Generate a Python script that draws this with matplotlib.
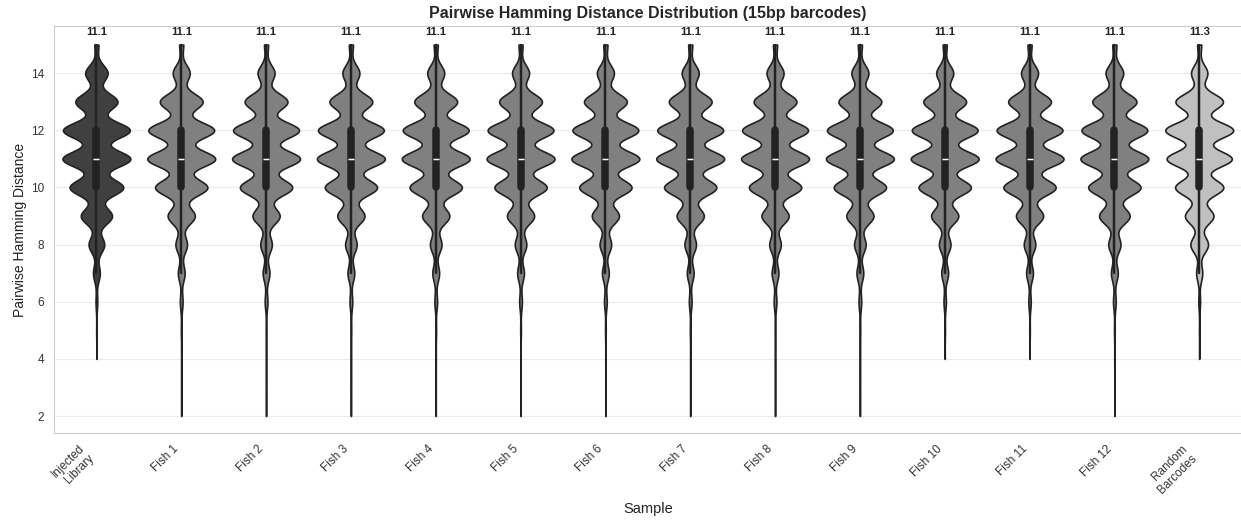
import numpy as np
import pandas as pd
import matplotlib
matplotlib.use("Agg")
import matplotlib.pyplot as plt
import seaborn as sns

# Hamming distance values and relative pair counts
distances = [2, 3, 4, 5, 6, 7, 8, 9, 10, 11, 12, 13, 14, 15]

samples = ["Injected\nLibrary", "Fish 1", "Fish 2", "Fish 3", "Fish 4", "Fish 5", "Fish 6",
           "Fish 7", "Fish 8", "Fish 9", "Fish 10", "Fish 11", "Fish 12", "Random\nBarcodes"]

injected_counts = [0, 0, 2, 6, 25, 100, 230, 460, 790, 1000, 985, 620, 330, 60]
fish1_counts = [1, 1, 3, 10, 40, 100, 170, 400, 770, 1000, 970, 630, 250, 60]
fish2_counts = [1, 1, 3, 10, 40, 100, 170, 400, 770, 1000, 970, 630, 250, 60]
fish3_counts = [1, 1, 3, 10, 40, 100, 170, 400, 770, 1000, 970, 630, 250, 60]
fish4_counts = [1, 1, 3, 10, 40, 100, 170, 400, 770, 1000, 970, 630, 250, 60]
fish5_counts = [1, 1, 3, 10, 40, 100, 170, 400, 770, 1000, 970, 630, 250, 60]
fish6_counts = [1, 1, 3, 10, 40, 100, 170, 400, 770, 1000, 970, 630, 250, 60]
fish7_counts = [1, 1, 3, 10, 40, 100, 170, 400, 770, 1000, 970, 630, 250, 60]
fish8_counts = [1, 1, 3, 10, 40, 100, 170, 400, 770, 1000, 970, 630, 250, 60]
fish9_counts = [2, 1, 3, 10, 40, 100, 170, 400, 770, 1000, 970, 630, 250, 60]
fish10_counts = [0, 0, 2, 8, 35, 100, 170, 400, 770, 1000, 970, 630, 250, 60]
fish11_counts = [0, 0, 2, 8, 35, 100, 170, 400, 770, 1000, 970, 630, 250, 60]
fish12_counts = [1, 1, 3, 10, 40, 100, 180, 450, 770, 1000, 970, 650, 260, 60]
random_counts = [0, 0, 2, 6, 25, 90, 260, 420, 710, 960, 1000, 700, 240, 60]

mean_labels = ["11.1"] * 13 + ["11.3"]

colors = ["#404040"] + ["#808080"] * 12 + ["#c0c0c0"]

all_counts = [injected_counts, fish1_counts, fish2_counts, fish3_counts, fish4_counts,
              fish5_counts, fish6_counts, fish7_counts, fish8_counts, fish9_counts,
              fish10_counts, fish11_counts, fish12_counts, random_counts]

rows = []
for name, counts in zip(samples, all_counts):
    vals = np.repeat(distances, counts)
    rows.append(pd.DataFrame({"Sample": name, "Distance": vals}))
df = pd.concat(rows, ignore_index=True)

sns.set_style("whitegrid")
plt.rcParams["font.family"] = ["Liberation Sans", "DejaVu Sans"]

fig = plt.figure(figsize=(12.41, 5.2), dpi=100)
ax = fig.add_axes([0.0435, 0.167, 0.957, 0.783])

sns.violinplot(data=df, x="Sample", y="Distance", hue="Sample", order=samples,
               palette=colors, legend=False, cut=0, bw_method=0.16, gridsize=500,
               density_norm="width", width=0.8, linewidth=1.2, linecolor="#222222",
               inner="box", saturation=1, ax=ax)

ax.set_ylim(1.4, 15.65)
ax.set_xlim(-0.5, 13.5)
ax.set_yticks([2, 4, 6, 8, 10, 12, 14])
ax.grid(axis="x", visible=False)
ax.grid(axis="y", color="#ebebeb", linewidth=0.8)
for s in ax.spines.values():
    s.set_color("#cccccc")

for i, lab in enumerate(mean_labels):
    ax.text(i, 15.45, lab, ha="center", va="center", fontsize=8, fontweight="bold", color="#222222")

ax.set_xticks(range(len(samples)))
ax.set_xticklabels(samples, rotation=45, ha="right", fontsize=8.5, color="#333333")
ax.tick_params(axis="y", labelsize=8.5, labelcolor="#333333")
ax.set_xlabel("Sample", fontsize=10.5, color="#222222")
ax.set_ylabel("Pairwise Hamming Distance", fontsize=10, color="#222222")
ax.xaxis.set_label_coords(0.5, -0.168)
ax.yaxis.set_label_coords(-0.0227, 0.5)
ax.set_title("Pairwise Hamming Distance Distribution (15bp barcodes)", fontsize=11.5,
             fontweight="bold", pad=6)

fig.savefig("out.png", dpi=100)
